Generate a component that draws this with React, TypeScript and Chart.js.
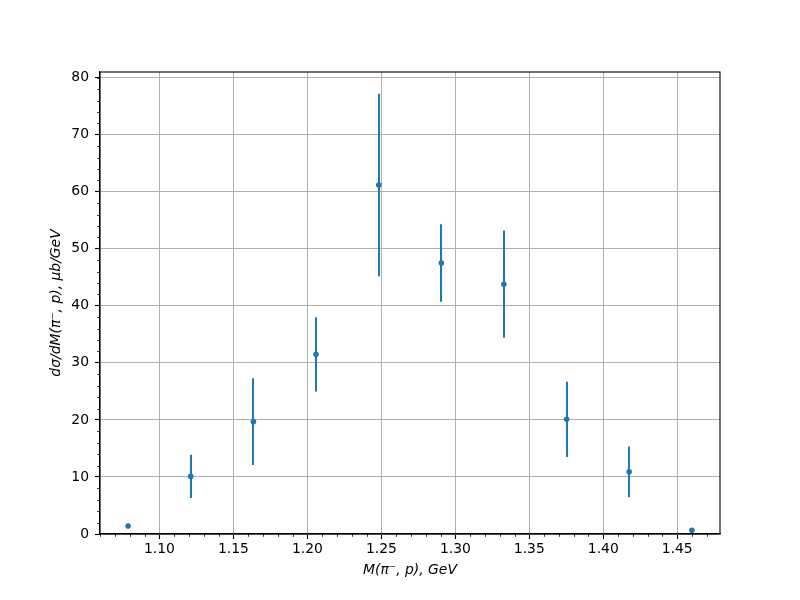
import React, { useEffect, useRef } from "react";
import { Chart, registerables } from "chart.js";

Chart.register(...registerables);

// Data
const massGeV = [1.0788, 1.1211, 1.1635, 1.2058, 1.2482, 1.2905, 1.3328, 1.3752, 1.4175, 1.4599];
const crossSection = [1.4, 10.1, 19.7, 31.5, 61.2, 47.5, 43.8, 20.1, 10.9, 0.65];
const crossSectionErr = [0.2, 3.8, 7.6, 6.5, 16.0, 6.8, 9.4, 6.6, 4.45, 0.15];

const xTicks = [1.1, 1.15, 1.2, 1.25, 1.3, 1.35, 1.4, 1.45];
const yTicks = [0, 10, 20, 30, 40, 50, 60, 70, 80];
const xMinorTicks = [1.06, 1.07, 1.08, 1.09, 1.11, 1.12, 1.13, 1.14, 1.16, 1.17, 1.18, 1.19, 1.21, 1.22, 1.23, 1.24, 1.26, 1.27, 1.28, 1.29, 1.31, 1.32, 1.33, 1.34, 1.36, 1.37, 1.38, 1.39, 1.41, 1.42, 1.43, 1.44, 1.46, 1.47];
const yMinorTicks = [2, 4, 6, 8, 12, 14, 16, 18, 22, 24, 26, 28, 32, 34, 36, 38, 42, 44, 46, 48, 52, 54, 56, 58, 62, 64, 66, 68, 72, 74, 76, 78, 80];

const X_MIN = 1.0598;
const X_MAX = 1.4789;
const Y_MIN = 0;
const Y_MAX = 81;

const BLUE = "#1f77b4";
const FONT = "'DejaVu Sans', sans-serif";

const errorBarPlugin = {
  id: "errorBars",
  beforeDatasetsDraw(chart: any) {
    const { ctx, scales } = chart;
    const xs = scales.x;
    const ys = scales.y;
    ctx.save();
    ctx.strokeStyle = BLUE;
    ctx.lineWidth = 2;
    ctx.lineCap = "butt";
    for (let i = 0; i < massGeV.length; i++) {
      const px = Math.round(xs.getPixelForValue(massGeV[i]));
      const y1 = ys.getPixelForValue(crossSection[i] - crossSectionErr[i]);
      const y2 = ys.getPixelForValue(crossSection[i] + crossSectionErr[i]);
      ctx.beginPath();
      ctx.moveTo(px, y1);
      ctx.lineTo(px, y2);
      ctx.stroke();
    }
    ctx.restore();
  },
};

const framePlugin = {
  id: "frame",
  afterDraw(chart: any) {
    const { ctx, chartArea, scales } = chart;
    const { left, right, top, bottom } = chartArea;
    ctx.save();
    // minor ticks
    ctx.strokeStyle = "#000";
    ctx.lineWidth = 0.8;
    ctx.beginPath();
    for (const v of xMinorTicks) {
      const px = Math.round(scales.x.getPixelForValue(v)) + 0.5;
      if (px < left || px > right) continue;
      ctx.moveTo(px, bottom);
      ctx.lineTo(px, bottom + 2.8);
    }
    for (const v of yMinorTicks) {
      const py = Math.round(scales.y.getPixelForValue(v)) + 0.5;
      if (py < top || py > bottom) continue;
      ctx.moveTo(left, py);
      ctx.lineTo(left - 2.8, py);
    }
    ctx.stroke();
    // spines
    ctx.lineWidth = 1.1;
    ctx.strokeRect(left, top, right - left, bottom - top);
    ctx.restore();
  },
};

export default function App() {
  const canvasRef = useRef<HTMLCanvasElement | null>(null);

  useEffect(() => {
    const canvas = canvasRef.current;
    if (!canvas) return;
    const chart = new Chart(canvas, {
      type: "scatter",
      data: {
        datasets: [
          {
            data: massGeV.map((x, i) => ({ x, y: crossSection[i] })),
            backgroundColor: BLUE,
            borderColor: BLUE,
            pointRadius: 2.8,
            pointBorderWidth: 0,
            showLine: false,
          },
        ],
      },
      options: {
        animation: false,
        responsive: false,
        devicePixelRatio: 1,
        layout: { padding: { top: 72, right: 80, left: 0, bottom: 0 } },
        plugins: {
          legend: { display: false },
          tooltip: { enabled: false },
        },
        scales: {
          x: {
            type: "linear",
            min: X_MIN,
            max: X_MAX,
            afterFit: (s: any) => {
              s.height = 66;
            },
            afterBuildTicks: (s: any) => {
              s.ticks = xTicks.map((v) => ({ value: v }));
            },
            ticks: {
              color: "#000",
              font: { family: FONT, size: 13.9 },
              padding: 2,
              maxRotation: 0,
              autoSkip: false,
              callback: (v: any) => Number(v).toFixed(2),
            },
            grid: {
              color: "#b0b0b0",
              lineWidth: 1,
              drawTicks: true,
              tickLength: 5,
              tickColor: "#000",
              tickWidth: 1.1,
            },
            border: { display: true, color: "#000", width: 1.1 },
            title: {
              display: true,
              text: "M(π⁻, p), GeV",
              color: "#000",
              font: { family: FONT, size: 13.9, style: "italic" },
              padding: { top: 0, bottom: 21 },
            },
          },
          y: {
            type: "linear",
            min: Y_MIN,
            max: Y_MAX,
            afterFit: (s: any) => {
              s.width = 100;
            },
            afterBuildTicks: (s: any) => {
              s.ticks = yTicks.map((v) => ({ value: v }));
            },
            ticks: {
              color: "#000",
              font: { family: FONT, size: 13.9 },
              padding: 6,
              autoSkip: false,
              callback: (v: any) => String(v),
            },
            grid: {
              color: "#b0b0b0",
              lineWidth: 1,
              drawTicks: true,
              tickLength: 5,
              tickColor: "#000",
              tickWidth: 1.1,
            },
            border: { display: true, color: "#000", width: 1.1 },
            title: {
              display: true,
              text: "dσ/dM(π⁻, p), μb/GeV",
              color: "#000",
              font: { family: FONT, size: 13.9, style: "italic" },
              padding: { top: 48, bottom: 0 },
            },
          },
        },
      },
      plugins: [errorBarPlugin, framePlugin],
    });
    return () => chart.destroy();
  }, []);

  return (
    <div style={{ position: "absolute", left: 0, top: 0, width: 800, height: 600, background: "#fff" }}>
      <canvas ref={canvasRef} width={800} height={600} />
    </div>
  );
}
